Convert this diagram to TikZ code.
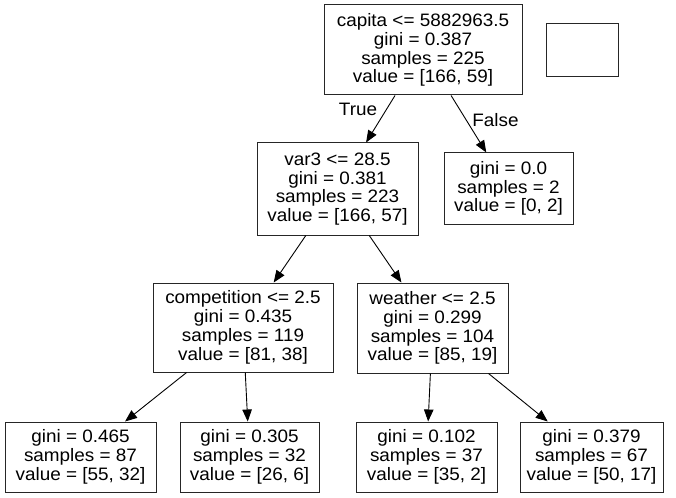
\documentclass[tikz,border=0pt]{standalone}
\usepackage{fontspec}
\setmainfont{Liberation Sans}[FakeStretch=1.05]
\usetikzlibrary{arrows.meta}
\begin{document}
\begin{tikzpicture}[x=1pt,y=-1pt,
  treebox/.style={draw=black!85, line width=1pt, rectangle, inner sep=0pt,
    align=center, font=\fontsize{18}{18.8}\selectfont},
  split/.style={treebox, minimum height=90pt},
  leaf/.style={treebox, minimum height=70pt},
  edgelbl/.style={inner sep=0pt, font=\fontsize{18}{18.8}\selectfont},
  branch/.style={draw=black, line width=0.9pt, -{Triangle[length=12pt,width=9.5pt]}}]
  \useasboundingbox (0,0) rectangle (676,497);
  \fill[white] (0,0) rectangle (676,497);

  % internal nodes
  \node[split, minimum width=198pt] (root) at (423,50)
    {capita <= 5882963.5\\gini = 0.387\\samples = 225\\value = [166, 59]};
  \node[split, minimum width=161pt, minimum height=92pt] (var3) at (337.5,189)
    {var3 <= 28.5\\gini = 0.381\\samples = 223\\value = [166, 57]};
  \node[split, minimum width=180pt, minimum height=89pt] (comp) at (243,327.5)
    {competition <= 2.5\\gini = 0.435\\samples = 119\\value = [81, 38]};
  \node[split, minimum width=151pt] (weather) at (432.5,328)
    {weather <= 2.5\\gini = 0.299\\samples = 104\\value = [85, 19]};

  % empty legend box
  \node[treebox, minimum width=72pt, minimum height=53pt] (legend) at (582,50.5) {};

  % leaves
  \node[leaf, minimum width=129pt, minimum height=71pt] (pure) at (508.5,188.5)
    {gini = 0.0\\samples = 2\\value = [0, 2]};
  \node[leaf, minimum width=151pt] (l1) at (80.5,457)
    {gini = 0.465\\samples = 87\\value = [55, 32]};
  \node[leaf, minimum width=139pt] (l2) at (249.5,457)
    {gini = 0.305\\samples = 32\\value = [26, 6]};
  \node[leaf, minimum width=141pt] (l3) at (426.5,457)
    {gini = 0.102\\samples = 37\\value = [35, 2]};
  \node[leaf, minimum width=143pt] (l4) at (591.5,457)
    {gini = 0.379\\samples = 67\\value = [50, 17]};

  % branches
  \draw[branch] (root) -- (var3);
  \draw[branch] (root) -- (pure);
  \draw[branch] (var3) -- (comp);
  \draw[branch] (var3) -- (weather);
  \draw[branch] (comp) -- (l1);
  \draw[branch] (comp) -- (l2);
  \draw[branch] (weather) -- (l3);
  \draw[branch] (weather) -- (l4);

  % branch labels
  \node[edgelbl] (ltrue) at (358,109.5) {True};
  \node[edgelbl] (lfalse) at (495.5,120) {False};
\end{tikzpicture}
\end{document}
